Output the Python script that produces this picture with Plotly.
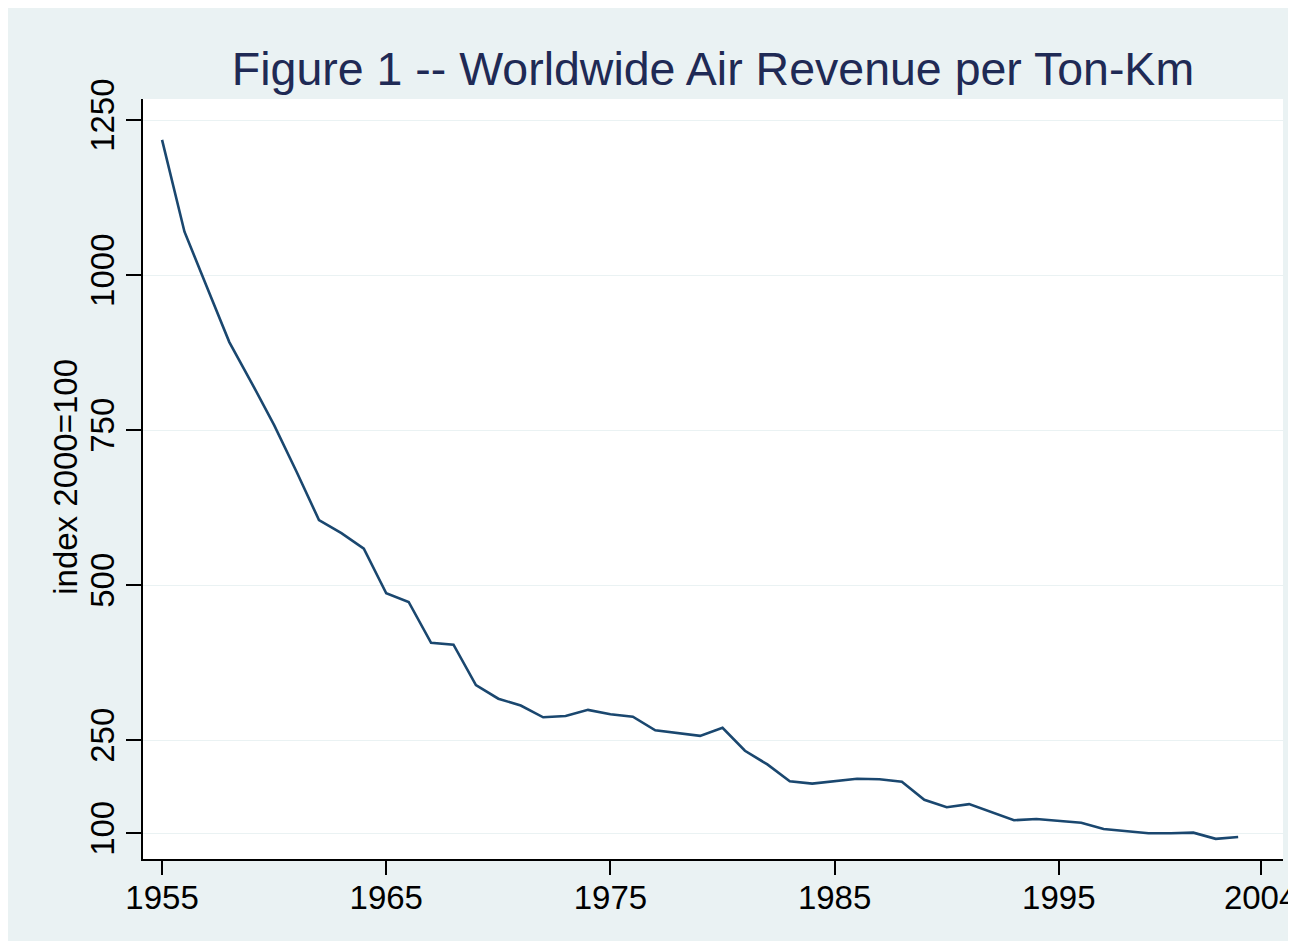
import plotly.graph_objects as go

years = list(range(1955, 2004))
index_values = [1218, 1070, 981, 892, 826, 758, 683, 605, 584, 559,
                487, 473, 407, 404, 339, 317, 306, 287, 289, 299,
                292, 288, 266, 262, 257, 270, 233, 211, 184, 180,
                184, 188, 187, 183, 154, 142, 147, 134, 121, 123,
                120, 117, 107, 103, 100, 100, 101, 91, 94]

x_ticks = [1955, 1965, 1975, 1985, 1995, 2004]
y_ticks = [100, 250, 500, 750, 1000, 1250]

title_text = "Figure 1 -- Worldwide Air Revenue per Ton-Km"
y_title = "index 2000=100"

BG = "#eaf2f3"
FONT = "Liberation Sans, Arial, sans-serif"

fig = go.Figure()
fig.add_trace(go.Scatter(x=years, y=index_values, mode="lines",
                         line=dict(color="#1a476f", width=2.6),
                         showlegend=False, hoverinfo="x+y"))

fig.update_layout(
    width=1288, height=933,
    margin=dict(l=135, r=13, t=91, b=82, autoexpand=False),
    paper_bgcolor=BG,
    plot_bgcolor="white",
    title=dict(text=title_text, x=0.5, xref="paper", xanchor="center",
               y=0.9346, yref="container", yanchor="middle",
               font=dict(family=FONT, size=46.5, color="#1f2a55")),
    annotations=[
        dict(text=y_title, xref="paper", yref="paper",
             x=-0.0675, y=0.503, xanchor="center", yanchor="middle",
             textangle=-90, showarrow=False,
             font=dict(family=FONT, size=33, color="#000000")),
    ],
)

fig.update_xaxes(
    range=[1954.15, 2005.0], automargin=False,
    tickmode="array", tickvals=x_ticks,
    ticks="outside", ticklen=14, tickwidth=1.5, tickcolor="#000000",
    ticklabelstandoff=-6, ticklabeloverflow="allow",
    showline=True, linecolor="#000000", linewidth=1.8,
    showgrid=False, zeroline=False,
    tickfont=dict(family=FONT, size=33, color="#000000"),
)

fig.update_yaxes(
    range=[58.5, 1284], automargin=False,
    tickmode="array", tickvals=y_ticks,
    ticks="outside", ticklen=15, tickwidth=1.5, tickcolor="#000000",
    tickangle=-90, ticklabelstandoff=-1,
    showline=True, linecolor="#000000", linewidth=1.8,
    showgrid=True, gridcolor=BG, gridwidth=1.2,
    zeroline=False,
    tickfont=dict(family=FONT, size=33, color="#000000"),
)

fig.write_html("out.html")
